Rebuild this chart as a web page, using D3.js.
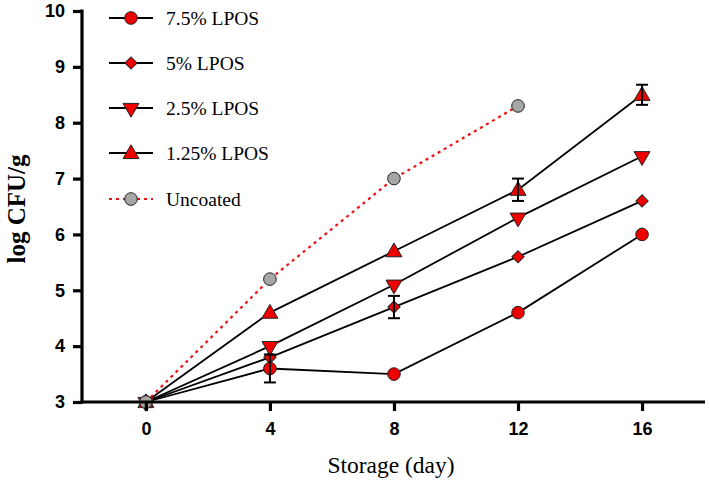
<!DOCTYPE html>
<html><head><meta charset="utf-8">
<script src="https://cdn.jsdelivr.net/npm/d3@7"></script>
<style>body{margin:0;background:#fff}svg{display:block}</style>
</head><body>
<script>
const days = [0, 4, 8, 12, 16];
const seriesNames = ["7.5% LPOS", "5% LPOS", "2.5% LPOS", "1.25% LPOS", "Uncoated"];
const lpos75 = [3.0, 3.6, 3.5, 4.6, 6.0];
const lpos75Err = [0, 0.25, 0, 0, 0];
const lpos5 = [3.0, 3.8, 4.7, 5.6, 6.6];
const lpos5Err = [0, 0, 0.2, 0, 0];
const lpos25 = [3.0, 4.0, 5.1, 6.3, 7.4];
const lpos25Err = [0, 0, 0, 0, 0];
const lpos125 = [3.0, 4.6, 5.7, 6.8, 8.5];
const lpos125Err = [0, 0, 0, 0.2, 0.18];
const uncoated = [3.0, 5.2, 7.0, 8.3];
const uncoatedErr = [0, 0, 0, 0];
const yTicks = [3, 4, 5, 6, 7, 8, 9, 10];
const xTicks = [0, 4, 8, 12, 16];

const W = 709, H = 483;
const svg = d3.select("body").append("svg").attr("width", W).attr("height", H);
const x = d3.scaleLinear().domain([-2.06, 18.03]).range([82, 705]);
const y = d3.scaleLinear().domain([3, 10]).range([402, 11]);

const series = [
  {name: seriesNames[0], vals: lpos75, err: lpos75Err, sym: d3.symbolCircle, size: 125, fill: "#ee0000", dash: null, line: "#000"},
  {name: seriesNames[1], vals: lpos5, err: lpos5Err, sym: "diamond", size: 75, fill: "#ee0000", dash: null, line: "#000"},
  {name: seriesNames[2], vals: lpos25, err: lpos25Err, sym: "down", size: 110, fill: "#ee0000", dash: null, line: "#000"},
  {name: seriesNames[3], vals: lpos125, err: lpos125Err, sym: d3.symbolTriangle, size: 110, fill: "#ee0000", dash: null, line: "#000"},
  {name: seriesNames[4], vals: uncoated, err: uncoatedErr, sym: d3.symbolCircle, size: 125, fill: "#a6a6a6", dash: "3,4", line: "#ee1111"}
];

function symPath(s) {
  if (s.sym === "down") return d3.symbol(d3.symbolTriangle, s.size)();
  if (s.sym === "diamond") return d3.symbol(d3.symbolSquare, s.size)();
  return d3.symbol(s.sym, s.size)();
}
function symTransform(s, px, py) {
  if (s.sym === "down") return `translate(${px},${py}) rotate(180)`;
  if (s.sym === "diamond") return `translate(${px},${py}) rotate(45)`;
  if (s.sym === d3.symbolTriangle) return `translate(${px},${py+1})`;
  return `translate(${px},${py})`;
}

const lineGen = d3.line().x((d, i) => x(days[i])).y(d => y(d));
series.forEach(s => {
  svg.append("path").attr("d", lineGen(s.vals)).attr("fill", "none")
    .attr("stroke", s.line).attr("stroke-width", s.dash ? 2.2 : 1.8)
    .attr("stroke-dasharray", s.dash);
});
series.forEach(s => {
  s.vals.forEach((v, i) => {
    svg.append("path").attr("d", symPath(s)).attr("transform", symTransform(s, x(days[i]), y(v)))
      .attr("fill", s.fill).attr("stroke", "#222").attr("stroke-width", 1);
  });
});
series.forEach(s => {
  s.vals.forEach((v, i) => {
    const e = s.err[i];
    if (!e) return;
    const px = x(days[i]);
    const g = svg.append("g").attr("stroke", "#000").attr("stroke-width", 2);
    g.append("line").attr("x1", px).attr("x2", px).attr("y1", y(v - e)).attr("y2", y(v + e));
    g.append("line").attr("x1", px - 6).attr("x2", px + 6).attr("y1", y(v - e)).attr("y2", y(v - e));
    g.append("line").attr("x1", px - 6).attr("x2", px + 6).attr("y1", y(v + e)).attr("y2", y(v + e));
  });
});

const xAxis = svg.append("g").attr("transform", `translate(0,${y(3)})`)
  .call(d3.axisBottom(x).tickValues(xTicks).tickSize(9).tickPadding(11).tickFormat(d3.format("d")));
const yAxis = svg.append("g").attr("transform", `translate(82,0)`)
  .call(d3.axisLeft(y).tickValues(yTicks).tickSize(9).tickPadding(8).tickFormat(d3.format("d")));
[xAxis, yAxis].forEach(a => {
  a.select(".domain").attr("stroke", "#000").attr("stroke-width", 3.2);
  a.selectAll(".tick line").attr("stroke", "#000").attr("stroke-width", 3.2);
  a.selectAll("text").attr("fill", "#000").attr("font-family", "Liberation Sans, Arial, sans-serif")
    .attr("font-weight", "bold").attr("font-size", 18);
});
yAxis.select(".domain").attr("d", `M0,${y(3)+1.5}V${y(10)-1.5}`);
xAxis.select(".domain").attr("d", `M80.5,0H705`);

svg.append("text").attr("x", 391).attr("y", 473).attr("text-anchor", "middle")
  .attr("font-family", "Liberation Serif, Times New Roman, serif").attr("font-size", 23.5)
  .text("Storage (day)");
svg.append("text").attr("transform", "translate(25,209) rotate(-90)").attr("text-anchor", "middle")
  .attr("font-family", "Liberation Serif, Times New Roman, serif").attr("font-size", 25).attr("font-weight", "bold")
  .text("log CFU/g");

const legY = [18, 63, 108, 153, 199];
series.forEach((s, i) => {
  const ly = legY[i];
  svg.append("line").attr("x1", 109).attr("x2", 153).attr("y1", ly).attr("y2", ly)
    .attr("stroke", s.line).attr("stroke-width", s.dash ? 2.2 : 1.8).attr("stroke-dasharray", s.dash);
  svg.append("path").attr("d", symPath(s)).attr("transform", symTransform(s, 131, ly))
    .attr("fill", s.fill).attr("stroke", "#222").attr("stroke-width", 1);
  svg.append("text").attr("x", 166).attr("y", ly + 7)
    .attr("font-family", "Liberation Serif, Times New Roman, serif").attr("font-size", 19.5)
    .text(s.name);
});
</script>
</body></html>
